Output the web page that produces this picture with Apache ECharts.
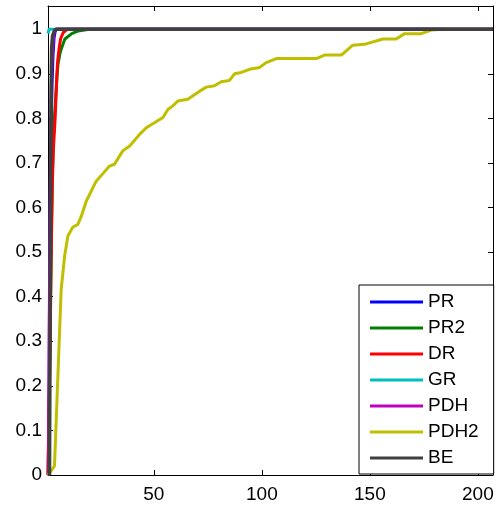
<!DOCTYPE html>
<html>
<head>
<meta charset="utf-8">
<script src="https://cdn.jsdelivr.net/npm/echarts@6/dist/echarts.min.js"></script>
<style>
html,body{margin:0;padding:0;background:#fff;}
#c{width:498px;height:508px;}
</style>
</head>
<body>
<div id="c"></div>
<script>
const seriesNames = ['PR','PR2','DR','GR','PDH','PDH2','BE'];
const seriesColors = ['#0000ff','#008000','#ff0000','#00bfbf','#bf00bf','#bfbf00','#404040'];

const PR = [[1.3,0],[1.6,0.3],[2.0,0.6],[2.5,0.8],[2.9,0.88],[3.3,0.94],[3.8,0.98],[4.3,0.995],[5,1],[207,1]];
const PR2 = [[1,0],[2,0.32],[2.5,0.52],[3,0.67],[3.5,0.76],[4.2,0.82],[5,0.88],[5.6,0.92],[6.5,0.945],[7.1,0.955],[8.8,0.978],[12,0.99],[15,0.996],[20,1],[207,1]];
const DR = [[1,0],[2,0.3],[2.5,0.5],[3,0.65],[3.5,0.73],[4.3,0.8],[4.8,0.86],[5.1,0.9],[5.5,0.93],[6.1,0.955],[6.8,0.978],[8,0.992],[10,1],[207,1]];
const GR = [[1,0.99],[1.5,1],[207,1]];
const PDH = [[1.3,0],[1.6,0.35],[2.0,0.65],[2.4,0.85],[2.8,0.92],[3.2,0.96],[3.7,0.99],[4.3,1],[207,1]];
const PDH2 = [[1,0],[1.7,0.005],[4,0.02],[7.1,0.416],[8.7,0.491],[10.2,0.536],[12.5,0.556],[14.8,0.562],[16.4,0.58],[18.7,0.614],[23.3,0.659],[26.4,0.676],[29.5,0.693],[31.8,0.697],[35.6,0.727],[38.8,0.738],[43.4,0.764],[46.5,0.779],[54.2,0.802],[56.5,0.82],[58.8,0.828],[61.1,0.839],[65.7,0.843],[71.2,0.861],[74.3,0.87],[78.1,0.873],[81.2,0.882],[85,0.885],[87.4,0.9],[90.5,0.903],[94.3,0.91],[98.9,0.914],[102,0.925],[106.7,0.934],[125.2,0.934],[129,0.942],[136.8,0.942],[142.1,0.964],[147.5,0.966],[156,0.978],[162.2,0.978],[166.1,0.99],[173.8,0.99],[178.4,0.998],[184.6,1],[207,1]];
const BE = [[1.7,0],[2.1,0.5],[2.5,0.9],[2.7,0.96],[3.1,0.985],[4,0.997],[5,1],[207,1]];

const xTicks = [50,100,150,200];
const yTicks = [0,0.1,0.2,0.3,0.4,0.5,0.6,0.7,0.8,0.9,1];

const allData = [PR,PR2,DR,GR,PDH,PDH2,BE];
const lineWidths = [3,3,3,3,3,3,3.5];
const FONT = '"Liberation Sans", Arial, sans-serif';

const X_MIN = 1, X_MAX = 207, Y_MIN = 0, Y_MAX = 1.052;

function xAxisDef(pos, showLabel){
  return {
    type:'value', position:pos, min:X_MIN, max:X_MAX,
    axisLine:{show:true, onZero:false, lineStyle:{color:'#000', width:1}},
    axisTick:{show:true, inside:true, length:5, customValues:xTicks, lineStyle:{color:'#000'}},
    axisLabel:{show:showLabel, customValues:xTicks, color:'#000', fontSize:19, fontFamily:FONT, margin:10},
    splitLine:{show:false}
  };
}
function yAxisDef(pos, showLabel){
  return {
    type:'value', position:pos, min:Y_MIN, max:Y_MAX,
    axisLine:{show:true, onZero:false, lineStyle:{color:'#000', width:1}},
    axisTick:{show:true, inside:true, length:5, customValues:yTicks, lineStyle:{color:'#000'}},
    axisLabel:{show:showLabel, customValues:yTicks, color:'#000', fontSize:19, fontFamily:FONT, margin:6},
    splitLine:{show:false}
  };
}

const chart = echarts.init(document.getElementById('c'), null, {renderer:'canvas'});
chart.setOption({
  animation:false,
  backgroundColor:'#fff',
  grid:{left:48, right:5, top:6, bottom:33, containLabel:false},
  xAxis:[xAxisDef('bottom', true), xAxisDef('top', false)],
  yAxis:[yAxisDef('left', true), yAxisDef('right', false)],
  legend:{
    orient:'vertical', left:359, top:285,
    padding:[7,15,6,11],
    itemGap:6,
    itemWidth:53, itemHeight:3,
    icon:'rect',
    backgroundColor:'#fff',
    borderColor:'#000', borderWidth:1,
    textStyle:{color:'#000', fontSize:19, fontFamily:FONT, lineHeight:20},
    data:seriesNames
  },
  series: seriesNames.map((n,i)=>({
    name:n, type:'line', xAxisIndex:0, yAxisIndex:0,
    data:allData[i], symbol:'none', clip:false,
    color:seriesColors[i],
    lineStyle:{color:seriesColors[i], width:lineWidths[i]},
    z:2+i
  }))
});
</script>
</body>
</html>
